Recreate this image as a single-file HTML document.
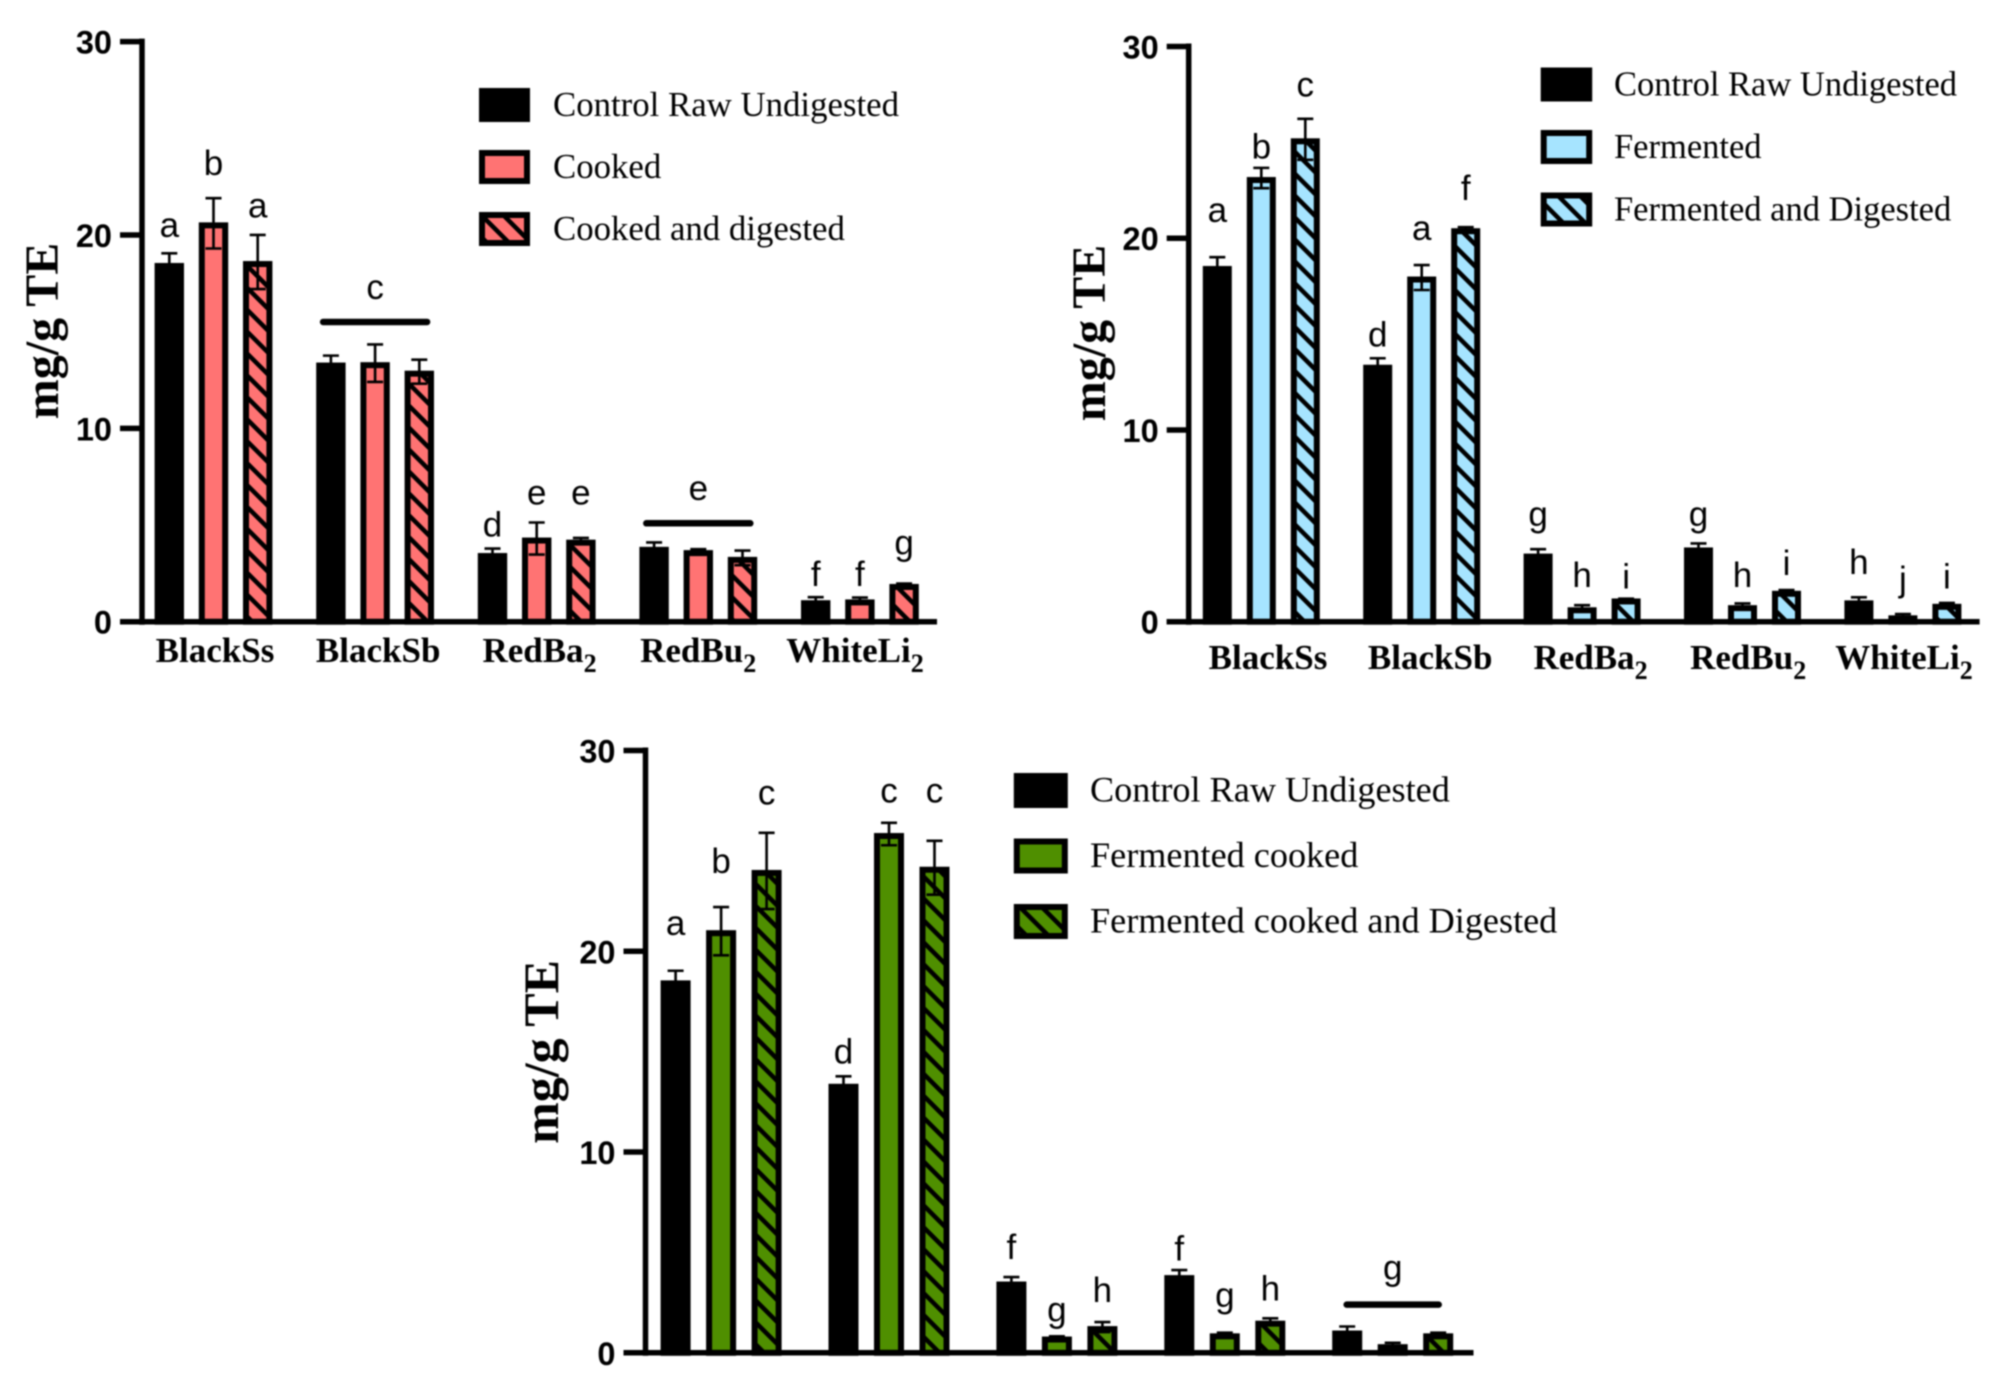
<!DOCTYPE html>
<html>
<head>
<meta charset="utf-8">
<title>Antioxidant capacity bar charts</title>
<style>
html,body{margin:0;padding:0;background:#fff;width:1998px;height:1382px;overflow:hidden}
svg{display:block;filter:blur(0.7px)}
.tick{font-family:"Liberation Sans",sans-serif;font-weight:700;font-size:32.5px;fill:#000}
.cat{font-family:"Liberation Serif",serif;font-weight:700;font-size:35px;fill:#000}
.title{font-family:"Liberation Serif",serif;font-weight:700;fill:#000}
.legend{font-family:"Liberation Serif",serif;fill:#000}
.letter{font-family:"Liberation Sans",sans-serif;font-size:35px;fill:#000}
</style>
</head>
<body>
<svg id="figure" xmlns="http://www.w3.org/2000/svg" width="1998" height="1382" viewBox="0 0 1998 1382"></svg>
<script>
const yTicks = [0, 10, 20, 30];
const categories = ['BlackSs', 'BlackSb', 'RedBa', 'RedBu', 'WhiteLi'];
const categorySubscripts = ['', '', '2', '2', '2'];

const legendCooked = ['Control Raw Undigested', 'Cooked', 'Cooked and digested'];
const controlValues = [18.5, 13.35, 3.5, 3.82, 1.06];
const cookedValues = [20.6, 13.37, 4.3, 3.65, 1.1];
const cookedDigestedValues = [18.6, 12.93, 4.19, 3.3, 1.9];
const cookedControlErr = [0.55, 0.41, 0.28, 0.28, 0.21];
const cookedErr = [1.3, 0.97, 0.83, 0.1, 0.15];
const cookedDigestedErr = [1.4, 0.62, 0.14, 0.38, 0.07];
const cookedLetters = [['a','b','a'], [null,null,null], ['d','e','e'], [null,null,null], ['f','f','g']];
const cookedLetterLevels = [[19.9,23.1,20.9], [0,0,0], [4.4,6.06,6.06], [0,0,0], [1.85,1.85,3.47]];
const cookedBracketGroups = [1, 3];
const cookedBracketLetters = ['c', 'e'];
const cookedBracketLevels = [15.5, 5.09];
const cookedBracketLetterLevels = [16.7, 6.3];

const legendFermented = ['Control Raw Undigested', 'Fermented', 'Fermented and Digested'];
const fermentedValues = [23.14, 17.95, 0.7, 0.81, 0.28];
const fermentedDigestedValues = [25.16, 20.47, 1.16, 1.56, 0.88];
const fermentedControlErr = [0.51, 0.39, 0.28, 0.26, 0.21];
const fermentedErr = [0.53, 0.65, 0.16, 0.14, 0.12];
const fermentedDigestedErr = [1.07, 0.11, 0.04, 0.09, 0.1];
const fermentedLetters = [['a','b','c'], ['d','a','f'], ['g','h','i'], ['g','h','i'], ['h','j','i']];
const fermentedLetterLevels = [[20.85,24.15,27.4], [14.35,19.9,22], [5,1.8,1.74], [5,1.8,2.44], [2.5,1.6,1.74]];

const legendFermCooked = ['Control Raw Undigested', 'Fermented cooked', 'Fermented cooked and Digested'];
const fermCookedValues = [21, 25.84, 0.76, 0.92, 0.38];
const fermCookedDigestedValues = [24, 24.16, 1.28, 1.55, 0.92];
const fermCookedControlErr = [0.53, 0.42, 0.27, 0.3, 0.25];
const fermCookedErr = [1.2, 0.56, 0.06, 0.08, 0.12];
const fermCookedDigestedErr = [1.9, 1.34, 0.25, 0.17, 0.08];
const fermCookedLetters = [['a','b','c'], ['d','c','c'], ['f','g','h'], ['f','g','h'], [null,null,null]];
const fermCookedLetterLevels = [[20.8,23.9,27.3], [14.4,27.4,27.4], [4.68,1.55,2.54], [4.6,2.27,2.6], [0,0,0]];
const fermCookedBracketGroups = [4];
const fermCookedBracketLetters = ['g'];
const fermCookedBracketLevels = [2.4];
const fermCookedBracketLetterLevels = [3.65];

const NS = 'http://www.w3.org/2000/svg';
const fig = document.getElementById('figure');
const BORDER = 6;

function make(parent, tag, attrs, text) {
  const el = document.createElementNS(NS, tag);
  for (const k in attrs) el.setAttribute(k, attrs[k]);
  if (text !== undefined) el.textContent = text;
  parent.appendChild(el);
  return el;
}

const defs = make(fig, 'defs', {});
function addHatch(id, color) {
  const p = make(defs, 'pattern', {id: id, patternUnits: 'userSpaceOnUse', width: 15.5, height: 15.5, patternTransform: 'rotate(-45)'});
  make(p, 'rect', {x: 0, y: 0, width: 15.5, height: 15.5, fill: color});
  make(p, 'rect', {x: 0, y: 0, width: 4.5, height: 15.5, fill: '#000'});
}

function drawChart(c) {
  const g = make(fig, 'g', {});
  
  
  const yScale = v => c.y0 + (c.y30 - c.y0) * v / 30;
  const barLeft = (gi, si) => c.x0 + gi * c.groupStep + si * c.barStep;
  const barCenter = (gi, si) => barLeft(gi, si) + c.barW / 2;
  const hatchId = c.name + '-hatch';
  addHatch(hatchId, c.color);
  const fills = ['#000', c.color, 'url(#' + hatchId + ')'];

  c.series.forEach((vals, si) => {
    vals.forEach((v, gi) => {
      const top = yScale(v) - 1;
      const bar = make(g, 'rect', {x: barLeft(gi, si) + BORDER / 2, y: top + BORDER / 2, width: c.barW - BORDER, height: Math.max(yScale(0) - top - BORDER / 2, 0), fill: fills[si], stroke: '#000', 'stroke-width': BORDER});
      
      
    });
  });

  c.errors.forEach((errs, si) => {
    errs.forEach((e, gi) => {
      const cx = barCenter(gi, si);
      const v = c.series[si][gi];
      const eg = make(g, 'path', {
        d: 'M' + cx + ' ' + yScale(v - e) + 'V' + yScale(v + e) +
           'M' + (cx - 8) + ' ' + yScale(v + e) + 'H' + (cx + 8) +
           'M' + (cx - 8) + ' ' + yScale(v - e) + 'H' + (cx + 8),
        stroke: '#000', 'stroke-width': 2.6, fill: 'none'});
      
      
    });
  });

  const yAxis = make(g, 'path', {d: 'M' + c.axisX + ' ' + (c.y30 - 3) + 'V' + (c.y0 + 3), stroke: '#000', 'stroke-width': 5.5, fill: 'none'});
  
  
  const xAxis = make(g, 'path', {d: 'M' + (c.axisX - 22) + ' ' + c.y0 + 'H' + c.xEnd, stroke: '#000', 'stroke-width': 5.5, fill: 'none'});
  
  

  yTicks.forEach(t => {
    const tm = make(g, 'path', {d: 'M' + (c.axisX - 22) + ' ' + yScale(t) + 'H' + c.axisX, stroke: '#000', 'stroke-width': 5.5});
    
    
    const tl = make(g, 'text', {class: 'tick', x: c.axisX - 30, y: yScale(t) + 12, 'text-anchor': 'end'}, String(t));
    
    
  });

  const yt = make(g, 'text', {class: 'title', 'font-size': c.titleSize, 'text-anchor': 'middle', transform: 'translate(' + c.titleX + ' ' + c.titleY + ') rotate(-90)'}, 'mg/g TE');
  
  

  if (c.showCategories) {
    categories.forEach((name, gi) => {
      const t = make(g, 'text', {class: 'cat', x: c.catX0 + gi * c.catStep + c.catNudge * Math.sin(gi * Math.PI / 4), y: c.catY, 'text-anchor': 'middle'}, name);
      if (categorySubscripts[gi]) {
        make(t, 'tspan', {dy: 10, 'font-size': 26}, categorySubscripts[gi]);
      }
      
      
    });
  }

  c.letters.forEach((row, gi) => {
    row.forEach((ch, si) => {
      if (!ch) return;
      const t = make(g, 'text', {class: 'letter', x: barCenter(gi, si), y: yScale(c.letterLevels[gi][si]), 'text-anchor': 'middle'}, ch);
      
      
    });
  });

  c.brackets.forEach((gi, i) => {
    const cx = barCenter(gi, 1);
    const half = c.bracketHalf;
    const line = make(g, 'path', {d: 'M' + (cx - half) + ' ' + yScale(c.bracketLevels[i]) + 'H' + (cx + half), stroke: '#000', 'stroke-width': 6.5, 'stroke-linecap': 'round'});
    
    
    const t = make(g, 'text', {class: 'letter', x: cx, y: yScale(c.bracketLetterLevels[i]), 'text-anchor': 'middle'}, c.bracketLetters[i]);
    
    
  });

  c.legend.forEach((label, i) => {
    const cy = c.legendY + i * c.legendStep;
    const sw = make(g, 'rect', {x: c.legendX + BORDER / 2, y: cy - c.legendH / 2 + BORDER / 2, width: c.legendW - BORDER, height: c.legendH - BORDER, fill: fills[i], stroke: '#000', 'stroke-width': BORDER});
    
    
    const t = make(g, 'text', {class: 'legend', 'font-size': c.legendFont, x: c.legendTextX, y: cy + 11}, label);
    
    
  });
}

drawChart({
  name: 'cooked-chart', color: '#ff7373',
  series: [controlValues, cookedValues, cookedDigestedValues],
  errors: [cookedControlErr, cookedErr, cookedDigestedErr],
  letters: cookedLetters, letterLevels: cookedLetterLevels,
  brackets: cookedBracketGroups, bracketLetters: cookedBracketLetters,
  bracketLevels: cookedBracketLevels, bracketLetterLevels: cookedBracketLetterLevels, bracketHalf: 52,
  legend: legendCooked,
  x0: 154.6, groupStep: 161.6, barStep: 44.2, barW: 29.4,
  axisX: 142, xEnd: 937, y0: 621.7, y30: 41.6,
  titleX: 58, titleY: 331, titleSize: 48, catY: 662, catX0: 215, catStep: 160, catNudge: 4.5, showCategories: true,
  legendX: 479, legendY: 105, legendStep: 62, legendW: 51, legendH: 34, legendFont: 34.8, legendTextX: 553
});

drawChart({
  name: 'fermented-chart', color: '#a6e4ff',
  series: [controlValues, fermentedValues, fermentedDigestedValues],
  errors: [fermentedControlErr, fermentedErr, fermentedDigestedErr],
  letters: fermentedLetters, letterLevels: fermentedLetterLevels,
  brackets: [], bracketLetters: [], bracketLevels: [], bracketLetterLevels: [], bracketHalf: 0,
  legend: legendFermented,
  x0: 1202.8, groupStep: 160.4, barStep: 44, barW: 29,
  axisX: 1188.7, xEnd: 1979.6, y0: 621.7, y30: 46.5,
  titleX: 1105, titleY: 333, titleSize: 48, catY: 669, catX0: 1268, catStep: 159, catNudge: 4.5, showCategories: true,
  legendX: 1540.7, legendY: 84.5, legendStep: 62.5, legendW: 51.5, legendH: 34, legendFont: 34.5, legendTextX: 1614
});

drawChart({
  name: 'fermented-cooked-chart', color: '#4f8f00',
  series: [controlValues, fermCookedValues, fermCookedDigestedValues],
  errors: [fermCookedControlErr, fermCookedErr, fermCookedDigestedErr],
  letters: fermCookedLetters, letterLevels: fermCookedLetterLevels,
  brackets: fermCookedBracketGroups, bracketLetters: fermCookedBracketLetters,
  bracketLevels: fermCookedBracketLevels, bracketLetterLevels: fermCookedBracketLetterLevels, bracketHalf: 46,
  legend: legendFermCooked,
  x0: 660.6, groupStep: 167.9, barStep: 45.5, barW: 30,
  axisX: 645.5, xEnd: 1473.5, y0: 1352.8, y30: 750.5,
  titleX: 558, titleY: 1052, titleSize: 50, catY: 0, catX0: 0, catStep: 0, catNudge: 0, showCategories: false,
  legendX: 1013.8, legendY: 790.5, legendStep: 65.5, legendW: 54, legendH: 35, legendFont: 36.2, legendTextX: 1090
});
</script>
</body>
</html>
